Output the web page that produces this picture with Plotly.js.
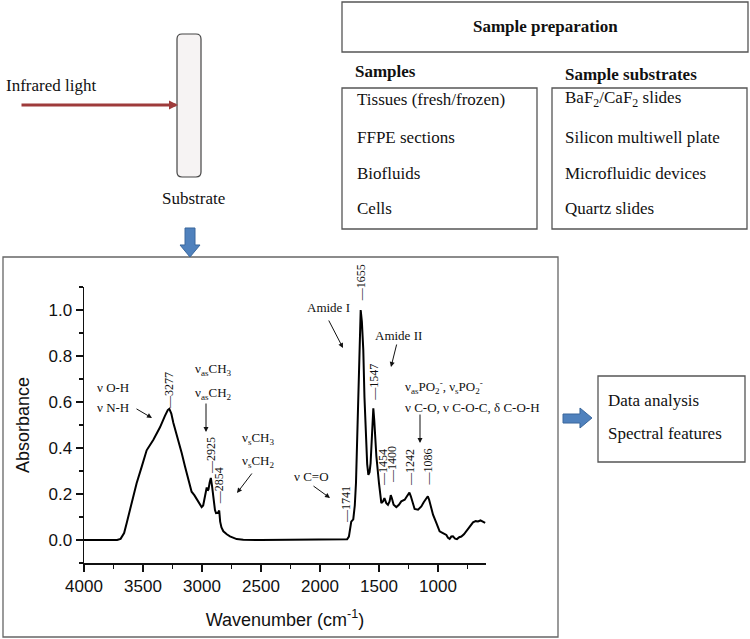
<!DOCTYPE html>
<html>
<head>
<meta charset="utf-8">
<script src="https://cdn.plot.ly/plotly-3.0.1.min.js"></script>
<style>
  body { margin: 0; background: #fff; }
  #chart { width: 750px; height: 639px; }
</style>
</head>
<body>
<div id="chart"></div>
<script>
// spectrum (wavenumber in cm-1, absorbance normalised)
let wavenumber = [4000, 3800, 3720, 3690, 3660, 3638, 3600, 3554, 3510, 3469, 3412, 3356, 3314, 3290, 3277,
    3260, 3243, 3201, 3172, 3144, 3116, 3088, 3065, 3045, 3031, 3003, 2990, 2975, 2960, 2952, 2945, 2935,
    2925, 2915, 2904, 2890, 2881, 2865, 2854, 2846, 2835, 2819, 2790, 2763, 2706, 2650, 2500, 2000, 1800,
    1770, 1755, 1745, 1735, 1718, 1705, 1695, 1685, 1675, 1665, 1655, 1645, 1633, 1623, 1613, 1600, 1590,
    1580, 1571, 1560, 1548, 1540, 1522, 1500, 1480, 1466, 1454, 1438, 1424, 1410, 1400, 1390, 1376, 1353,
    1331, 1311, 1282, 1263, 1242, 1230, 1217, 1198, 1169, 1141, 1121, 1099, 1086, 1075, 1065, 1042, 1014,
    986, 958, 945, 929, 915, 901, 887, 873, 855, 839, 820, 802, 780, 760, 732, 703, 680, 661, 640, 619, 600];
let absorbance = [0, 0, 0, 0.005, 0.03, 0.074, 0.15, 0.247, 0.32, 0.39, 0.436, 0.49, 0.54, 0.565, 0.57,
    0.55, 0.51, 0.435, 0.378, 0.32, 0.26, 0.21, 0.195, 0.18, 0.168, 0.143, 0.15, 0.19, 0.228, 0.215, 0.22, 0.25,
    0.27, 0.235, 0.182, 0.13, 0.117, 0.118, 0.128, 0.08, 0.055, 0.038, 0.025, 0.016, 0.004, 0.001, 0, 0, 0,
    0.003, 0.015, 0.06, 0.08, 0.09, 0.15, 0.247, 0.45, 0.68, 0.9, 1.0, 0.95, 0.826, 0.62, 0.45, 0.33, 0.283,
    0.295, 0.334, 0.44, 0.573, 0.52, 0.363, 0.247, 0.16, 0.168, 0.182, 0.16, 0.153, 0.168, 0.195, 0.18, 0.153, 0.143,
    0.153, 0.168, 0.175, 0.19, 0.206, 0.19, 0.168, 0.135, 0.132, 0.146, 0.164, 0.182, 0.19, 0.175, 0.153, 0.11, 0.074,
    0.038, 0.03, 0.025, 0.022, 0.01, 0.005, 0.015, 0.016, 0.006, 0.004, 0.012, 0.015, 0.025, 0.038, 0.059, 0.077, 0.082, 0.081, 0.085, 0.081, 0.074];

// peak labels and the absorbance where each rotated label starts
let peaks = [3277, 2925, 2854, 1741, 1655, 1547, 1454, 1400, 1242, 1086];
let peakLabelY = [0.56, 0.28, 0.145, 0.065, 1.03, 0.596, 0.226, 0.24, 0.226, 0.23];
let peakShift = [-1, 0, 0, -5, 0, 1, -2, 2, 0, 0];

// band assignments written on the spectrum
let bandLabels = ['ν O-H', 'ν N-H', 'ν<sub>as</sub>CH<sub>3</sub>', 'ν<sub>as</sub>CH<sub>2</sub>',
    'ν<sub>s</sub>CH<sub>3</sub>', 'ν<sub>s</sub>CH<sub>2</sub>', 'ν C=O', 'Amide I', 'Amide II',
    'ν<sub>as</sub>PO<sub>2</sub><sup>-</sup>, ν<sub>s</sub>PO<sub>2</sub><sup>-</sup>', 'ν C-O, ν C-O-C, δ C-O-H'];

let sampleItems = ['Tissues (fresh/frozen)', 'FFPE sections', 'Biofluids', 'Cells'];
let substrateItems = ['BaF<sub>2</sub>/CaF<sub>2</sub> slides', 'Silicon multiwell plate', 'Microfluidic devices', 'Quartz slides'];
let analysisItems = ['Data analysis', 'Spectral features'];

const W = 750, H = 639;
function fx(x) { return x / W; }
function fy(y) { return 1 - y / H; }
function pathOf(pts) {
    return 'M' + pts.map(p => fx(p[0]).toFixed(4) + ',' + fy(p[1]).toFixed(4)).join(' L') + ' Z';
}
function box(x0, y0, x1, y1, color) {
    return { type: 'rect', xref: 'paper', yref: 'paper', x0: fx(x0), x1: fx(x1), y0: fy(y1), y1: fy(y0),
        line: { color: color || '#555', width: 1.3 } };
}

let serif = 'Liberation Serif, Times New Roman, serif';
let annotations = [];

function label(text, x, y, opts) {
    annotations.push(Object.assign({
        text: text, xref: 'paper', yref: 'paper', x: fx(x), y: fy(y), showarrow: false,
        xanchor: 'left', yanchor: 'middle', font: { family: serif, size: 17, color: '#111' }
    }, opts || {}));
}

// top diagram
label('Infrared light', 4, 86);
label('Substrate', 193, 198, { xanchor: 'center' });
label('<b>Sample preparation</b>', 545, 27, { xanchor: 'center' });
label('<b>Samples</b>', 353, 72);
label('<b>Sample substrates</b>', 563, 74);
let rowY = [99, 137, 173, 208];
sampleItems.forEach((t, i) => label(t, 355, rowY[i]));
substrateItems.forEach((t, i) => label(t, 563, rowY[i]));
analysisItems.forEach((t, i) => label(t, 606, [400, 433][i]));

// infrared beam
annotations.push({
    xref: 'paper', yref: 'paper', x: fx(178), y: fy(105), ax: -158, ay: 0, text: '',
    showarrow: true, arrowhead: 2, arrowsize: 0.6, arrowwidth: 3, arrowcolor: '#9E3B3B'
});

// rotated peak labels
peaks.forEach((p, i) => {
    annotations.push({
        text: '—' + p, xref: 'x', yref: 'y', x: p, y: peakLabelY[i], textangle: -90,
        xanchor: 'center', yanchor: 'bottom', showarrow: false, xshift: peakShift[i],
        font: { family: serif, size: 12, color: '#111' }
    });
});

// band assignment texts (left edge, middle y in pixels)
let bandPos = [[95, 387], [95, 407], [193, 369], [193, 393], [240, 438], [240, 461], [292, 476],
    [305, 307], [373, 335], [403, 387], [403, 407]];
bandLabels.forEach((t, i) => label(t, bandPos[i][0], bandPos[i][1],
    { font: { family: serif, size: 13, color: '#111' } }));

// small arrows pointing to the bands: [headX, headY, tailX, tailY]
let bandArrows = [[152, 418, 135, 408], [206, 432, 206, 402], [237, 493, 253, 472], [330, 498, 312, 485],
    [343, 348, 328, 319], [391, 367, 397, 343], [420, 443, 420, 413]];
bandArrows.forEach(a => annotations.push({
    xref: 'paper', yref: 'paper', x: fx(a[0]), y: fy(a[1]), ax: a[2] - a[0], ay: a[3] - a[1], text: '',
    showarrow: true, arrowhead: 2, arrowsize: 1, arrowwidth: 1, arrowcolor: '#111'
}));

let shapes = [
    box(342, 2, 748, 52),
    box(342, 88, 537, 229),
    box(552, 88, 747, 229),
    box(598, 376, 745, 462),
    box(3, 257, 558, 637, '#666'),
    // substrate slide
    { type: 'path', xref: 'paper', yref: 'paper', fillcolor: '#F6F3F3', line: { color: '#444', width: 1.2 },
      path: 'M' + fx(182) + ',' + fy(34) + ' L' + fx(196) + ',' + fy(34) + ' Q' + fx(201) + ',' + fy(34) + ' ' + fx(201) + ',' + fy(39) +
            ' L' + fx(201) + ',' + fy(172) + ' Q' + fx(201) + ',' + fy(177) + ' ' + fx(196) + ',' + fy(177) +
            ' L' + fx(182) + ',' + fy(177) + ' Q' + fx(177) + ',' + fy(177) + ' ' + fx(177) + ',' + fy(172) +
            ' L' + fx(177) + ',' + fy(39) + ' Q' + fx(177) + ',' + fy(34) + ' ' + fx(182) + ',' + fy(34) + ' Z' },
    // blue block arrows
    { type: 'path', xref: 'paper', yref: 'paper', fillcolor: '#4F81BD', line: { color: '#3A679C', width: 1 },
      path: pathOf([[185, 228], [195, 228], [195, 245], [200, 245], [190, 257], [180, 245], [185, 245]]) },
    { type: 'path', xref: 'paper', yref: 'paper', fillcolor: '#4F81BD', line: { color: '#3A679C', width: 1 },
      path: pathOf([[563, 414], [580, 414], [580, 408], [592, 418], [580, 428], [580, 423], [563, 423]]) }
];

let trace = {
    x: wavenumber,
    y: absorbance,
    type: 'scatter',
    mode: 'lines',
    line: { color: '#000', width: 2 },
    hoverinfo: 'skip'
};

let axisFont = { family: 'Liberation Sans, Arial, sans-serif', size: 17, color: '#111' };

let layout = {
    width: W,
    height: H,
    margin: { l: 0, r: 0, t: 0, b: 0 },
    paper_bgcolor: '#fff',
    plot_bgcolor: 'rgba(0,0,0,0)',
    showlegend: false,
    xaxis: {
        domain: [fx(84), fx(486)],
        range: [4000, 593],
        tick0: 0, dtick: 500,
        ticks: 'outside', ticklen: 7, tickwidth: 1.5, tickcolor: '#111',
        minor: { ticks: 'outside', ticklen: 4, dtick: 250, tickwidth: 1.2, tickcolor: '#111', showgrid: false },
        showline: true, linewidth: 1.5, linecolor: '#111',
        showgrid: false, zeroline: false,
        tickfont: axisFont,
        title: { text: 'Wavenumber (cm<sup>-1</sup>)', font: { family: axisFont.family, size: 18, color: '#111' }, standoff: 18 }
    },
    yaxis: {
        domain: [fy(563), fy(287)],
        range: [-0.1, 1.1],
        tick0: 0, dtick: 0.2, tickformat: '.1f',
        ticks: 'outside', ticklen: 7, tickwidth: 1.5, tickcolor: '#111',
        minor: { ticks: 'outside', ticklen: 4, dtick: 0.1, tickwidth: 1.2, tickcolor: '#111', showgrid: false },
        showline: true, linewidth: 1.5, linecolor: '#111',
        showgrid: false, zeroline: false,
        tickfont: axisFont,
        title: { text: 'Absorbance', font: { family: axisFont.family, size: 18, color: '#111' }, standoff: 14 }
    },
    shapes: shapes,
    annotations: annotations
};

Plotly.newPlot('chart', [trace], layout, { displayModeBar: false, staticPlot: true });
</script>
</body>
</html>
